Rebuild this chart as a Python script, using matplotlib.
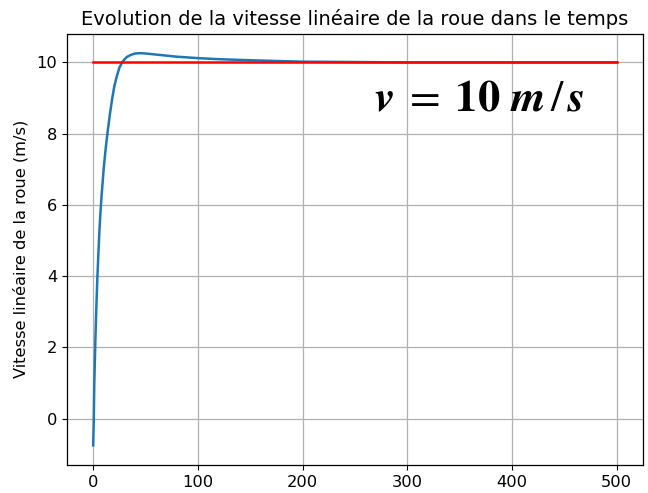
import matplotlib
matplotlib.use("Agg")
import matplotlib.pyplot as plt

# Wheel linear speed response (time samples and speed in m/s)
t = [0, 0.6, 1, 2, 3, 4, 5, 6, 7, 8, 10, 12, 14, 16, 18, 20, 22, 25, 28,
     32, 36, 40, 45, 50, 60, 70, 80, 100, 120, 150, 175, 200, 250, 300,
     400, 500]
v = [-0.75, 0.0, 0.9, 2.1, 3.1, 3.95, 4.65, 5.3, 5.8, 6.25, 7.0, 7.6, 8.1,
     8.55, 8.95, 9.3, 9.55, 9.85, 10.02, 10.15, 10.21, 10.25, 10.26, 10.25,
     10.22, 10.19, 10.16, 10.12, 10.09, 10.06, 10.04, 10.02, 10.01, 10.0,
     10.0, 10.0]

# Set point
t_ref = [0, 500]
v_ref = [10, 10]

plt.rcParams["font.size"] = 11.7
plt.rcParams["grid.linewidth"] = 0.9
plt.rcParams["axes.linewidth"] = 0.9

fig = plt.figure(figsize=(6.48, 4.93), dpi=100)
ax = fig.add_axes([0.1034, 0.0568, 0.8886, 0.8752])

ax.plot(t, v, color="C0", linewidth=1.8)
ax.plot(t_ref, v_ref, color="red", linewidth=1.8)
ax.grid(True)

ax.set_title("Evolution de la vitesse linéaire de la roue dans le temps",
             fontsize=14)
ax.set_ylabel("Vitesse linéaire de la roue (m/s)", labelpad=6)

ax.text(369, 9.0,
        r"$\mathbfit{v}\;=\;\mathbf{10}\ \mathbfit{m}\,/\,\mathbfit{s}$",
        fontsize=32, math_fontfamily="stix", ha="center", va="center")

fig.savefig("out.png", dpi=100)
